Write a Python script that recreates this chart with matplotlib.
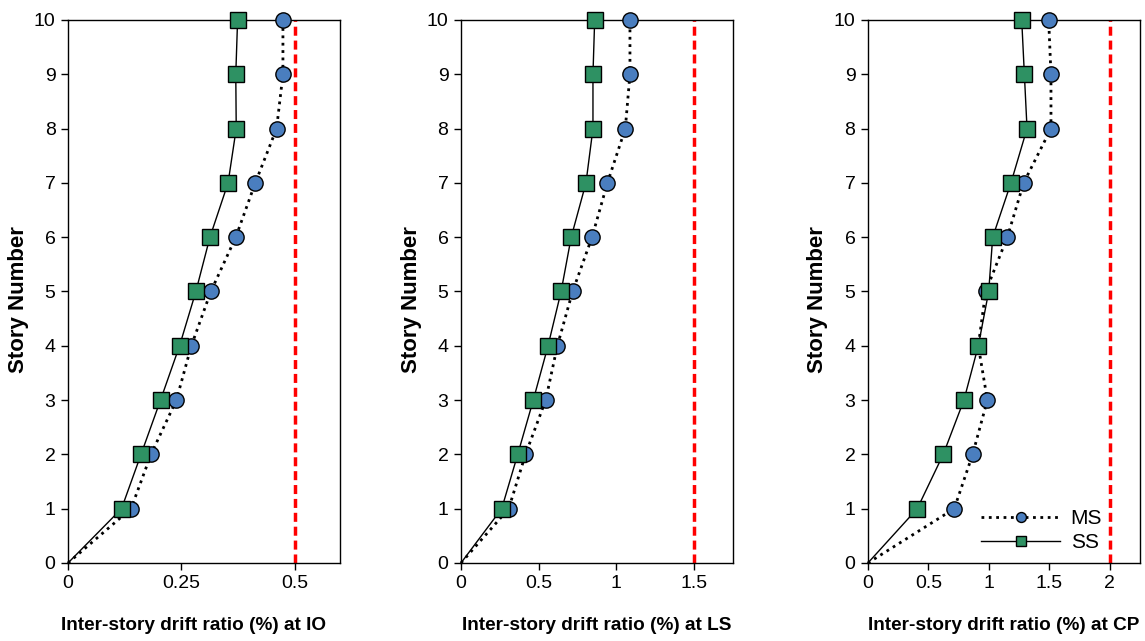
import numpy as np
import matplotlib
matplotlib.use('Agg')
import matplotlib.pyplot as plt
from matplotlib.ticker import FuncFormatter

plt.rcParams['font.family'] = ['Liberation Sans', 'DejaVu Sans']

stories = [0, 1, 2, 3, 4, 5, 6, 7, 8, 9, 10]

# IO level
ms_io = [0, 0.139, 0.183, 0.239, 0.272, 0.315, 0.370, 0.413, 0.460, 0.474, 0.474]
ss_io = [0, 0.118, 0.161, 0.204, 0.246, 0.282, 0.313, 0.353, 0.371, 0.370, 0.374]
# LS level
ms_ls = [0, 0.307, 0.415, 0.545, 0.620, 0.718, 0.843, 0.942, 1.057, 1.087, 1.087]
ss_ls = [0, 0.262, 0.365, 0.465, 0.560, 0.644, 0.709, 0.804, 0.849, 0.849, 0.860]
# CP level
ms_cp = [0, 0.714, 0.866, 0.988, 0.913, 0.974, 1.153, 1.288, 1.514, 1.514, 1.495]
ss_cp = [0, 0.408, 0.623, 0.794, 0.913, 0.999, 1.032, 1.183, 1.316, 1.294, 1.272]

limits = [0.5, 1.5, 2.0]
xmax = [0.6, 1.75, 2.25]
xticks = [[0, 0.25, 0.5], [0, 0.5, 1, 1.5], [0, 0.5, 1, 1.5, 2]]
levels = ['IO', 'LS', 'CP']

ms_all = [ms_io, ms_ls, ms_cp]
ss_all = [ss_io, ss_ls, ss_cp]

fig = plt.figure(figsize=(11.45, 6.41), dpi=100)
lefts = [0.0594, 0.4026, 0.758]
xlab_x = [0.461, 0.5, 0.5]

def fmt(v, pos):
    return ('%g' % v)

for i in range(3):
    ax = fig.add_axes([lefts[i], 0.1217, 0.2376, 0.8471])
    ax.plot(ms_all[i], stories, linestyle=':', color='black', lw=2,
            marker='o', markersize=11, markerfacecolor='#4A7EBF',
            markeredgecolor='black', markeredgewidth=1, markevery=list(range(1, 11)),
            label='MS', zorder=3, clip_on=False)
    ax.plot(ss_all[i], stories, linestyle='-', color='black', lw=1,
            marker='s', markersize=12, markerfacecolor='#2E9163',
            markeredgecolor='black', markeredgewidth=1, markevery=list(range(1, 11)),
            label='SS', zorder=4, clip_on=False)
    ax.axvline(limits[i], color='#FF0000', linestyle=(0, (2.6, 1.4)), lw=2.5, zorder=2)
    ax.set_xlim(0, xmax[i])
    ax.set_ylim(0, 10)
    ax.set_yticks(range(0, 11))
    ax.set_xticks(xticks[i])
    ax.xaxis.set_major_formatter(FuncFormatter(fmt))
    ax.tick_params(direction='out', length=5, width=1, labelsize=14, pad=4)
    for s in ax.spines.values():
        s.set_linewidth(1)
    ax.set_xlabel('Inter-story drift ratio (%) at ' + levels[i], fontsize=13.7,
                  fontweight='bold')
    ax.xaxis.set_label_coords(xlab_x[i], -0.1)
    ax.set_ylabel('Story Number', fontsize=16, fontweight='bold')
    ax.yaxis.set_label_coords(-0.145, 0.486)
    if i == 2:
        leg = ax.legend(loc='lower right', frameon=False, fontsize=15,
                        handlelength=3.8, markerscale=0.65,
                        bbox_to_anchor=(0.93, -0.015), handletextpad=0.5,
                        labelspacing=0.25)

fig.savefig('out.png', dpi=100)
